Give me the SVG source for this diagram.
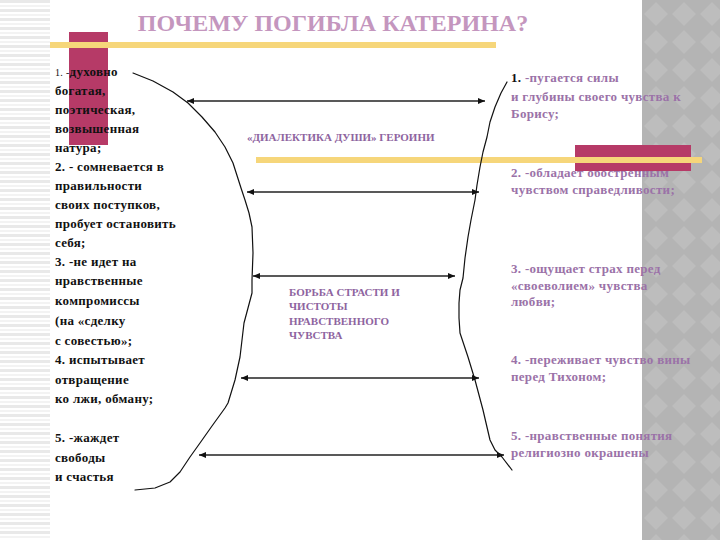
<svg xmlns="http://www.w3.org/2000/svg" width="720" height="540" viewBox="0 0 720 540">
<defs>
<pattern id="stripes" x="0" y="0" width="50" height="9" patternUnits="userSpaceOnUse">
<rect x="0" y="0" width="50" height="3" fill="#e9e9e9"/>
<rect x="0" y="5" width="50" height="2" fill="#f3f3f3"/>
</pattern>
<pattern id="diamonds" x="642" y="0" width="28" height="28" patternUnits="userSpaceOnUse">
<rect width="28" height="28" fill="#b4b4b4"/>
<polygon points="14,2 26,14 14,26 2,14" fill="#bdbdbd"/>
</pattern>
<marker id="ah" markerWidth="8" markerHeight="6" refX="7" refY="3" orient="auto-start-reverse" markerUnits="userSpaceOnUse">
<path d="M0,0 L7,3 L0,6 z" fill="#111"/>
</marker>
</defs>
<style>
.lt{font-family:"Liberation Serif","Times New Roman",serif;font-size:13px;font-weight:bold;fill:#111;letter-spacing:0.3px}
.rt{font-family:"Liberation Serif","Times New Roman",serif;font-size:13px;font-weight:bold;fill:#9b72a8;letter-spacing:0.3px}
.mid{font-family:"Liberation Serif","Times New Roman",serif;font-size:11px;font-weight:bold;fill:#8e64a0}
.arrow{stroke:#595959;stroke-width:2;fill:none;marker-start:url(#ah);marker-end:url(#ah)}
.curve{stroke:#111;stroke-width:1.2;fill:none;stroke-linejoin:round;stroke-linecap:round}
</style>
<rect width="720" height="540" fill="#ffffff"/>
<rect x="0" y="0" width="50" height="540" fill="url(#stripes)"/>
<rect x="642" y="0" width="78" height="540" fill="url(#diamonds)"/>

<g id="title">
<text x="333" y="31" text-anchor="middle" font-family="Liberation Serif, Times New Roman, serif" font-size="24" font-weight="bold" fill="#c496be">ПОЧЕМУ ПОГИБЛА КАТЕРИНА?</text>
</g>

<g id="deco-left">
<rect x="69" y="32" width="39" height="113" fill="#b63a67"/>
<rect x="50" y="42" width="446" height="6" fill="#f6d67a"/>
</g>

<g id="left-list">
<text class="lt" x="55" y="76"><tspan font-size="10" font-weight="normal">1. -</tspan>духовно</text>
<text class="lt" x="55" y="95">богатая,</text>
<text class="lt" x="55" y="114">поэтическая,</text>
<text class="lt" x="55" y="133">возвышенная</text>
<text class="lt" x="55" y="152">натура;</text>
<text class="lt" x="55" y="171">2. - сомневается  в</text>
<text class="lt" x="55" y="190">правильности</text>
<text class="lt" x="55" y="209">своих поступков,</text>
<text class="lt" x="55" y="228">пробует остановить</text>
<text class="lt" x="55" y="247">себя;</text>
<text class="lt" x="55" y="266">3. -не идет на</text>
<text class="lt" x="55" y="285">нравственные</text>
<text class="lt" x="55" y="305">компромиссы</text>
<text class="lt" x="55" y="325">(на «сделку</text>
<text class="lt" x="55" y="345">с совестью»;</text>
<text class="lt" x="55" y="364">4. испытывает</text>
<text class="lt" x="55" y="384">отвращение</text>
<text class="lt" x="55" y="403">ко лжи, обману;</text>
<text class="lt" x="55" y="442">5. -жаждет</text>
<text class="lt" x="55" y="462">свободы</text>
<text class="lt" x="55" y="481">и счастья</text>
</g>

<g id="right-list">
<text class="rt" x="511" y="82"><tspan fill="#111">1.</tspan> -пугается силы</text>
<text class="rt" x="511" y="101">и глубины  своего чувства к</text>
<text class="rt" x="511" y="118">Борису;</text>
<text class="rt" x="511" y="177">2. -обладает обостренным</text>
<text class="rt" x="511" y="194">чувством справедливости;</text>
<text class="rt" x="511" y="273">3. -ощущает страх перед</text>
<text class="rt" x="511" y="290">«своеволием» чувства</text>
<text class="rt" x="511" y="306">любви;</text>
<text class="rt" x="511" y="364">4. -переживает чувство вины</text>
<text class="rt" x="511" y="381">перед Тихоном;</text>
<text class="rt" x="511" y="440">5. -нравственные понятия</text>
<text class="rt" x="511" y="457">религиозно окрашены</text>
</g>

<g id="deco-right">
<rect x="575" y="145" width="116" height="26" fill="#b63a67"/>
<rect x="256" y="157" width="446" height="6" fill="#f6d67a"/>
</g>

<g id="label-dialectics">
<text class="mid" x="247" y="141">«ДИАЛЕКТИКА ДУШИ» ГЕРОИНИ</text>
</g>

<g id="label-struggle">
<text class="mid" x="289" y="296">БОРЬБА СТРАСТИ И</text>
<text class="mid" x="289" y="310">ЧИСТОТЫ</text>
<text class="mid" x="289" y="325">НРАВСТВЕННОГО</text>
<text class="mid" x="289" y="339">ЧУВСТВА</text>
</g>

<g id="curves">
<polyline class="curve" points="133,73 153,81 173,92 188,103 202,117 215,132 225,147 233,163 241,188 245,200 249,213 252,227 253,253 252,280 252,293 248,308 244,323 242,340 240,357 235,380 228,403 225,408 212,426 200,443 190,457 180,472 170,482 155,488 135,490"/>
<polyline class="curve" points="507,82 501,93 495,107 490,122 487,137 483,152 480,167 477,185 475,200 471,220 468,237 465,258 463,278 460,290 459,303 459,318 460,333 464,345 468,357 475,380 483,410 490,440 495,450 502,457 512,470"/>
</g>

<g id="connectors">
<line class="arrow" x1="187" y1="101" x2="485" y2="101"/>
<line class="arrow" x1="247" y1="192" x2="479" y2="192"/>
<line class="arrow" x1="253" y1="276" x2="455" y2="276"/>
<line class="arrow" x1="241" y1="378" x2="479" y2="378"/>
<line class="arrow" x1="199" y1="455" x2="504" y2="455"/>
</g>
</svg>
